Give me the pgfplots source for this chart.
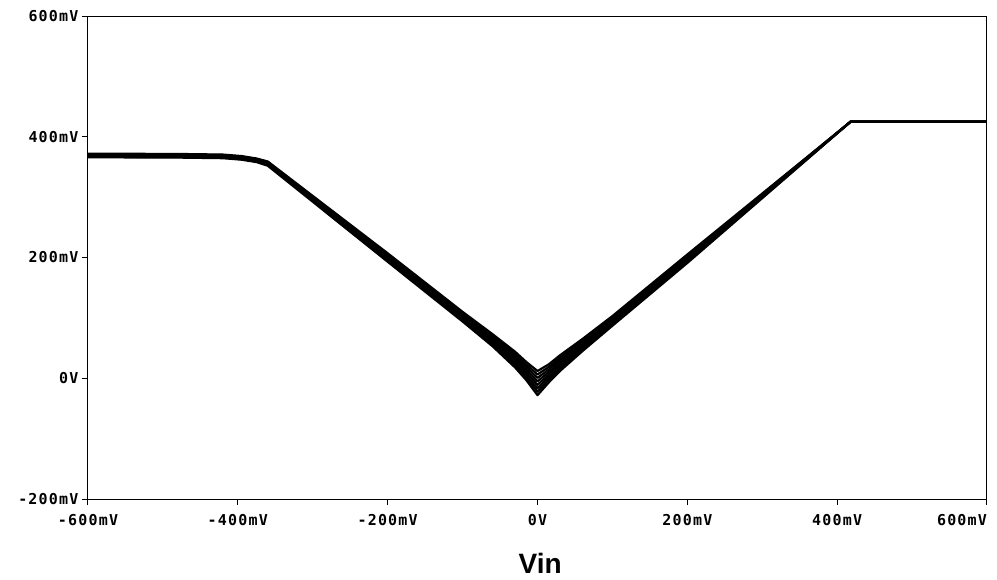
\documentclass[border=0pt]{standalone}
\usepackage{fontspec}
\usepackage{pgfplots}
\pgfplotsset{compat=1.18}
\newfontfamily\tickfont[LetterSpace=8]{DejaVu Sans Mono}
\newfontfamily\labelfont{Liberation Sans}
\begin{document}
\begin{tikzpicture}
\begin{axis}[
  width=899pt, height=483pt, scale only axis,
  xmin=-600, xmax=600, ymin=-200, ymax=600,
  xtick={-600,-400,-200,0,200,400,600},
  xticklabels={-600mV,-400mV,-200mV,0V,200mV,400mV,{\makebox[0pt][r]{600mV}}},
  ytick={-200,0,200,400,600},
  yticklabels={-200mV,0V,200mV,400mV,600mV},
  tick align=outside, xtick pos=bottom, ytick pos=left,
  major tick length=6pt,
  tick style={black, line width=1pt},
  axis line style={black, line width=1pt},
  ticklabel style={font=\tickfont\bfseries\fontsize{15}{15}\selectfont},
  xticklabel style={anchor=north, yshift=-6pt},
  yticklabel style={anchor=east, xshift=0pt},
  xlabel={Vin},
  xlabel style={font=\labelfont\bfseries\fontsize{28}{28}\selectfont, at={(rel axis cs:0.503,0)}, anchor=center, yshift=-64pt},
  mc/.style={black, solid, mark=none, line width=2.2pt, line join=round},
]
\addplot[mc] coordinates {(-600,366) (-480,365.5) (-420,364.5) (-395,362) (-375,358) (-360,352) (-200,193) (-100,94) (-60,53) (-30,18) (-15,-3) (0,-28) (15,-7) (30,12) (60,45) (100,87) (200,191) (418,425) (430,425) (600,425)};
\addplot[mc] coordinates {(-600,366.9) (-480,366.4) (-420,365.4) (-395,362.9) (-375,358.9) (-360,353) (-200,195) (-100,96.3) (-60,55.9) (-30,21.7) (-15,1.3) (0,-22.3) (15,-2.7) (30,15.7) (60,47.9) (100,89.3) (200,193) (418,425) (430,425) (600,425)};
\addplot[mc] coordinates {(-600,367.7) (-480,367.2) (-420,366.2) (-395,363.7) (-375,359.7) (-360,354) (-200,197) (-100,98.6) (-60,58.7) (-30,25.4) (-15,5.6) (0,-16.6) (15,1.6) (30,19.4) (60,50.7) (100,91.6) (200,195) (418,425) (430,425) (600,425)};
\addplot[mc] coordinates {(-600,368.6) (-480,368.1) (-420,367.1) (-395,364.6) (-375,360.6) (-360,355) (-200,199) (-100,100.9) (-60,61.6) (-30,29.1) (-15,9.9) (0,-10.9) (15,5.9) (30,23.1) (60,53.6) (100,93.9) (200,197) (418,425) (430,425) (600,425)};
\addplot[mc] coordinates {(-600,369.4) (-480,368.9) (-420,367.9) (-395,365.4) (-375,361.4) (-360,356) (-200,201) (-100,103.1) (-60,64.4) (-30,32.9) (-15,14.1) (0,-5.1) (15,10.1) (30,26.9) (60,56.4) (100,96.1) (200,199) (418,425) (430,425) (600,425)};
\addplot[mc] coordinates {(-600,370.3) (-480,369.8) (-420,368.8) (-395,366.3) (-375,362.3) (-360,357) (-200,203) (-100,105.4) (-60,67.3) (-30,36.6) (-15,18.4) (0,0.6) (15,14.4) (30,30.6) (60,59.3) (100,98.4) (200,201) (418,425) (430,425) (600,425)};
\addplot[mc] coordinates {(-600,371.1) (-480,370.6) (-420,369.6) (-395,367.1) (-375,363.1) (-360,358) (-200,205) (-100,107.7) (-60,70.1) (-30,40.3) (-15,22.7) (0,6.3) (15,18.7) (30,34.3) (60,62.1) (100,100.7) (200,203) (418,425) (430,425) (600,425)};
\addplot[mc] coordinates {(-600,372) (-480,371.5) (-420,370.5) (-395,368) (-375,364) (-360,359) (-200,207) (-100,110) (-60,73) (-30,44) (-15,27) (0,12) (15,23) (30,38) (60,65) (100,103) (200,205) (418,425) (430,425) (600,425)};
\end{axis}
\pgfresetboundingbox
\useasboundingbox (-88pt,-80pt) rectangle (909pt,499pt);
\end{tikzpicture}
\end{document}
